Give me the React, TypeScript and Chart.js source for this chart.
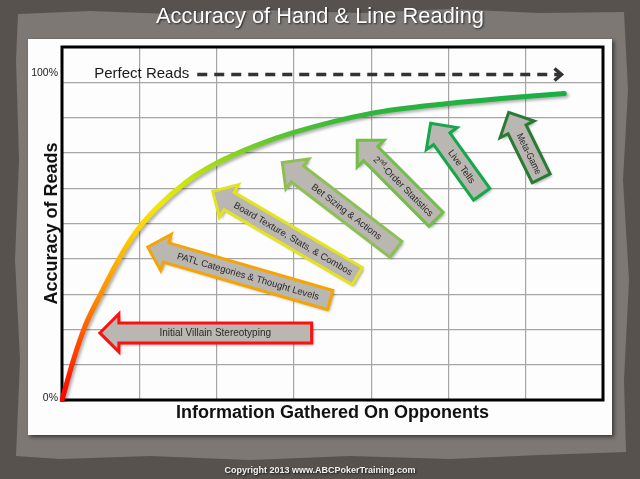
import React, { useEffect, useRef } from "react";
import { Chart, registerables } from "chart.js";

Chart.register(...registerables);

const chartTitle = "Accuracy of Hand & Line Reading";
const xAxisTitle = "Information Gathered On Opponents";
const yAxisTitle = "Accuracy of Reads";
const copyrightText = "Copyright 2013 www.ABCPokerTraining.com";

const xMin = 0;
const xMax = 7;
const yMin = 0;
const yMax = 10;
const yTickValues = [0, 9];
const yTickLabels = ["0%", "100%"];

const curveX = [0, 0.15, 0.3, 0.5, 0.7, 0.92, 1.23, 1.62, 2.01, 2.5, 3.0, 4.0, 5.0, 6.0, 6.5];
const curveY = [0, 1.15, 2.1, 3.0, 3.85, 4.65, 5.45, 6.2, 6.72, 7.2, 7.58, 8.12, 8.4, 8.6, 8.68];

const perfectLabel = "Perfect Reads";
const perfectX = [1.75, 6.45];
const perfectY = [9.22, 9.22];

const arrowLabels = [
  "Initial Villain Stereotyping",
  "PATL Categories & Thought Levels",
  "Board Texture, Stats, & Combos",
  "Bet Sizing & Actions",
  "2nd-Order Statistics",
  "Live Tells",
  "Meta-Game",
];
const arrowTipX = [0.49, 1.11, 1.95, 2.85, 3.82, 4.77, 5.78];
const arrowTipY = [1.9, 4.33, 5.91, 6.73, 7.36, 7.84, 8.15];
const arrowTailX = [3.23, 3.47, 3.82, 4.32, 4.84, 5.43, 6.2];
const arrowTailY = [1.9, 2.83, 3.51, 4.27, 5.12, 5.83, 6.28];
const arrowColors = ["#ff1010", "#f5a500", "#e4e41c", "#8cc152", "#72bf46", "#14a84a", "#2a7a35"];

const FONT = '"Liberation Sans", Arial, sans-serif';

function drawArrow(ctx: CanvasRenderingContext2D, tx: number, ty: number, bx: number, by: number, color: string, label: string, idx: number) {
  const dx = tx - bx;
  const dy = ty - by;
  const len = Math.hypot(dx, dy);
  const ux = dx / len;
  const uy = dy / len;
  const nx = -uy;
  const ny = ux;
  const sw = 10;
  const hw = 19;
  const hl = 19;
  const hx = tx - ux * hl;
  const hy = ty - uy * hl;
  const pts = [
    [bx + nx * sw, by + ny * sw],
    [hx + nx * sw, hy + ny * sw],
    [hx + nx * hw, hy + ny * hw],
    [tx, ty],
    [hx - nx * hw, hy - ny * hw],
    [hx - nx * sw, hy - ny * sw],
    [bx - nx * sw, by - ny * sw],
  ];
  ctx.save();
  ctx.beginPath();
  pts.forEach((p, i) => (i === 0 ? ctx.moveTo(p[0], p[1]) : ctx.lineTo(p[0], p[1])));
  ctx.closePath();
  ctx.shadowColor = "rgba(0,0,0,0.35)";
  ctx.shadowBlur = 3;
  ctx.shadowOffsetX = 2;
  ctx.shadowOffsetY = 2;
  ctx.fillStyle = "#bab6b2";
  ctx.fill();
  ctx.shadowColor = "transparent";
  ctx.lineWidth = 3;
  ctx.lineJoin = "miter";
  ctx.strokeStyle = color;
  ctx.stroke();
  // label
  const cx = (bx + hx) / 2;
  const cy = (by + hy) / 2;
  const ang = Math.atan2(by - ty, bx - tx);
  ctx.translate(cx, cy);
  ctx.rotate(ang);
  ctx.fillStyle = "#2a2a2a";
  ctx.textAlign = "center";
  ctx.textBaseline = "middle";
  const maxW = len - hl - 10;
  if (label.startsWith("2nd")) {
    const big = `9.5px ${FONT}`;
    const small = `6.5px ${FONT}`;
    const rest = label.slice(3);
    ctx.font = big;
    const w2 = ctx.measureText("2").width;
    const wr = ctx.measureText(rest).width;
    ctx.font = small;
    const wn = ctx.measureText("nd").width;
    const total = w2 + wn + wr;
    let x = -total / 2;
    ctx.textAlign = "left";
    ctx.font = big;
    ctx.fillText("2", x, 0.5);
    x += w2;
    ctx.font = small;
    ctx.fillText("nd", x, -2.5);
    x += wn;
    ctx.font = big;
    ctx.fillText(rest, x, 0.5);
  } else {
    ctx.font = idx === 0 ? `10px ${FONT}` : `9.5px ${FONT}`;
    ctx.fillText(label, 0, 0.5, maxW);
  }
  ctx.restore();
}

const decorPlugin = {
  id: "decor",
  beforeDraw(chart: any) {
    const ctx: CanvasRenderingContext2D = chart.ctx;
    const W = chart.width;
    const H = chart.height;
    ctx.save();
    ctx.fillStyle = "#57524e";
    ctx.fillRect(0, 0, W, H);
    // lighter paper
    ctx.beginPath();
    const paper = [
      [18, 14], [90, 11], [170, 14], [260, 10], [360, 13], [450, 9], [540, 13], [624, 12],
      [628, 90], [623, 180], [629, 280], [624, 380], [626, 452],
      [540, 455], [450, 459], [350, 456], [250, 460], [150, 456], [60, 459], [16, 456],
      [20, 360], [15, 260], [19, 160], [16, 60],
    ];
    paper.forEach((p, i) => (i === 0 ? ctx.moveTo(p[0], p[1]) : ctx.lineTo(p[0], p[1])));
    ctx.closePath();
    ctx.fillStyle = "#7d7874";
    ctx.fill();
    // white card
    ctx.shadowColor = "rgba(0,0,0,0.55)";
    ctx.shadowBlur = 4;
    ctx.shadowOffsetX = 2;
    ctx.shadowOffsetY = 2;
    ctx.fillStyle = "#fdfdfd";
    ctx.fillRect(28, 39, 584, 396);
    ctx.shadowColor = "transparent";
    // title
    ctx.shadowColor = "rgba(0,0,0,0.7)";
    ctx.shadowBlur = 2;
    ctx.shadowOffsetX = 1;
    ctx.shadowOffsetY = 1;
    ctx.fillStyle = "#ffffff";
    ctx.font = `22px ${FONT}`;
    ctx.textAlign = "center";
    ctx.textBaseline = "middle";
    ctx.fillText(chartTitle, 320, 17, 328);
    ctx.font = `bold 9px ${FONT}`;
    ctx.fillStyle = "#f2f2f2";
    ctx.fillText(copyrightText, 320, 471, 196);
    ctx.restore();
  },
  beforeDatasetsDraw(chart: any) {
    const ctx: CanvasRenderingContext2D = chart.ctx;
    const { left, right, top, bottom } = chart.chartArea;
    ctx.save();
    ctx.strokeStyle = "#000";
    ctx.lineWidth = 3;
    ctx.strokeRect(left, top, right - left, bottom - top);
    ctx.restore();
  },
  beforeDatasetDraw(chart: any, args: any) {
    if (args.index === 0) {
      const ctx: CanvasRenderingContext2D = chart.ctx;
      ctx.save();
      ctx.shadowColor = "rgba(0,0,0,0.3)";
      ctx.shadowBlur = 3;
      ctx.shadowOffsetX = 2;
      ctx.shadowOffsetY = 2;
    }
  },
  afterDatasetDraw(chart: any, args: any) {
    if (args.index === 0) chart.ctx.restore();
  },
  afterDatasetsDraw(chart: any) {
    const ctx: CanvasRenderingContext2D = chart.ctx;
    const xs = chart.scales.x;
    const ys = chart.scales.y;
    const { left, top, bottom, right } = chart.chartArea;
    ctx.save();
    // y tick labels
    ctx.fillStyle = "#222";
    ctx.font = `10.5px ${FONT}`;
    ctx.textAlign = "right";
    ctx.textBaseline = "middle";
    yTickValues.forEach((v, i) => {
      const off = v === 0 ? -2 : -9;
      ctx.fillText(yTickLabels[i], left - 4, ys.getPixelForValue(v) + off);
    });
    // axis titles
    ctx.font = `bold 18px ${FONT}`;
    ctx.textAlign = "center";
    ctx.fillStyle = "#111";
    ctx.fillText(xAxisTitle, (left + right) / 2, bottom + 13, 314);
    ctx.save();
    ctx.translate(left - 10, (top + bottom) / 2);
    ctx.rotate(-Math.PI / 2);
    ctx.fillText(yAxisTitle, 0, 0, 166);
    ctx.restore();
    // perfect reads label and chevron
    const py = ys.getPixelForValue(perfectY[0]);
    ctx.font = `15px ${FONT}`;
    ctx.textAlign = "right";
    ctx.fillStyle = "#1a1a1a";
    ctx.fillText(perfectLabel, xs.getPixelForValue(perfectX[0]) - 8, py - 1);
    const ex = xs.getPixelForValue(perfectX[1]);
    ctx.beginPath();
    ctx.moveTo(ex - 6, py - 6);
    ctx.lineTo(ex + 1, py);
    ctx.lineTo(ex - 6, py + 6);
    ctx.strokeStyle = "#333";
    ctx.lineWidth = 3.5;
    ctx.lineJoin = "miter";
    ctx.stroke();
    ctx.restore();
    // arrows
    arrowLabels.forEach((label, i) => {
      drawArrow(
        ctx,
        xs.getPixelForValue(arrowTipX[i]),
        ys.getPixelForValue(arrowTipY[i]),
        xs.getPixelForValue(arrowTailX[i]),
        ys.getPixelForValue(arrowTailY[i]),
        arrowColors[i],
        label,
        i
      );
    });
  },
};

let gradCache: CanvasGradient | null = null;
function curveGradient(context: any) {
  const chart = context.chart;
  const { chartArea, scales } = chart;
  if (!chartArea || !scales.y) return "#ff0000";
  if (gradCache) return gradCache;
  const ys = scales.y;
  const g = chart.ctx.createLinearGradient(0, ys.getPixelForValue(0), 0, ys.getPixelForValue(8.7));
  g.addColorStop(0, "#ff0000");
  g.addColorStop(0.22, "#ff5a00");
  g.addColorStop(0.34, "#ff8c00");
  g.addColorStop(0.46, "#ffb400");
  g.addColorStop(0.56, "#ffd400");
  g.addColorStop(0.64, "#f0e800");
  g.addColorStop(0.72, "#c4e410");
  g.addColorStop(0.79, "#90d420");
  g.addColorStop(0.87, "#52c234");
  g.addColorStop(0.94, "#2cb43e");
  g.addColorStop(1, "#1aae44");
  gradCache = g;
  return g;
}

export default function App() {
  const ref = useRef<HTMLCanvasElement>(null);
  useEffect(() => {
    const canvas = ref.current;
    if (!canvas) return;
    gradCache = null;
    const chart = new Chart(canvas, {
      type: "line",
      data: {
        datasets: [
          {
            label: "Accuracy",
            data: curveX.map((x, i) => ({ x, y: curveY[i] })),
            borderColor: curveGradient,
            borderWidth: 5,
            pointRadius: 0,
            cubicInterpolationMode: "monotone",
            borderCapStyle: "round",
            fill: false,
            clip: 2,
          },
          {
            label: perfectLabel,
            data: perfectX.map((x, i) => ({ x, y: perfectY[i] })),
            borderColor: "#333333",
            borderWidth: 3.5,
            borderDash: [10, 7],
            pointRadius: 0,
            fill: false,
          },
        ],
      } as any,
      options: {
        responsive: false,
        animation: false,
        events: [],
        layout: { padding: { left: 62, top: 47, right: 37, bottom: 79 } },
        plugins: { legend: { display: false }, tooltip: { enabled: false }, title: { display: false } },
        scales: {
          x: {
            type: "linear",
            min: xMin,
            max: xMax,
            ticks: { display: false, stepSize: 1 },
            grid: { color: "#a6a6a6", lineWidth: 1.2, drawTicks: false },
            border: { display: false },
          },
          y: {
            type: "linear",
            min: yMin,
            max: yMax,
            ticks: { display: false, stepSize: 1 },
            grid: { color: "#a6a6a6", lineWidth: 1.2, drawTicks: false },
            border: { display: false },
          },
        },
      } as any,
      plugins: [decorPlugin],
    });
    return () => chart.destroy();
  }, []);
  return (
    <div style={{ position: "fixed", left: 0, top: 0, width: 640, height: 479 }}>
      <canvas ref={ref} width={640} height={479} style={{ display: "block", width: 640, height: 479 }} />
    </div>
  );
}
